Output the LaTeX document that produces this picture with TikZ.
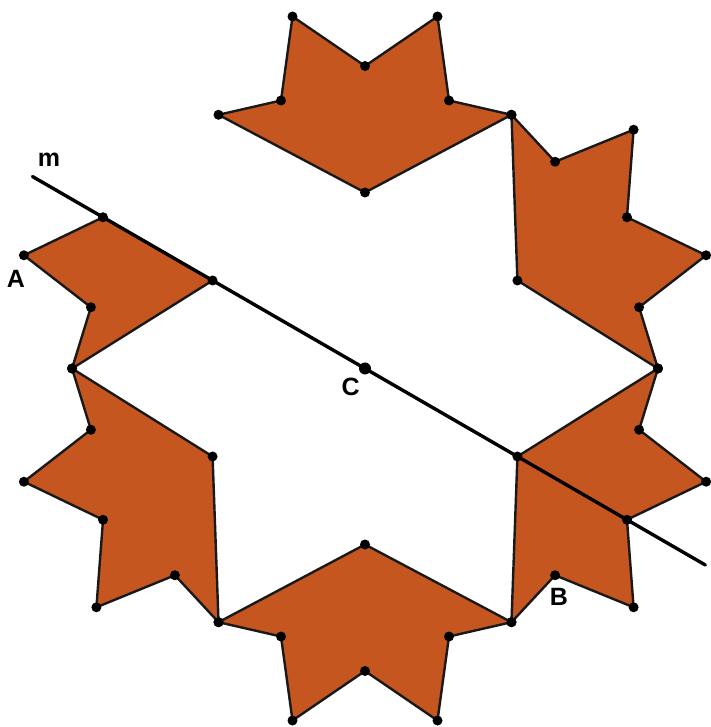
\documentclass[tikz,border=0pt]{standalone}
\usepackage{fontspec}
\setmainfont{Liberation Sans}
\usetikzlibrary{positioning}
\definecolor{tilefill}{HTML}{C5561F}

\begin{document}
\begin{tikzpicture}[
    x=1pt, y=1pt,
    tile/.style={
      draw=black!90, fill=tilefill,
      line width=2.4pt, line join=round},
    vdot/.style={
      circle, fill=black, inner sep=0pt, minimum size=10pt},
    mirror/.style={line width=3.4pt, line cap=round},
    plabel/.style={font=\fontsize{25}{29}\selectfont\bfseries},
  ]
  \useasboundingbox (-365,-358.5) rectangle (345,368.5);

  % ── Five full tiles, turned about C ──
  \foreach \ang [count=\k] in {0,-60,-120,-180,-240} {
    \begin{scope}[rotate=\ang]
      \coordinate (t\k1) at (-146.5,253.7);
      \coordinate (t\k2) at (-84,268);
      \coordinate (t\k3) at (-72.5,352);
      \coordinate (t\k4) at (0,302.5);
      \coordinate (t\k5) at (72.5,352);
      \coordinate (t\k6) at (84,268);
      \coordinate (t\k7) at (146.5,253.7);
      \coordinate (t\k8) at (0,176);
    \end{scope}
    \draw[tile] (t\k1) -- (t\k2) -- (t\k3) -- (t\k4) -- (t\k5)
      -- (t\k6) -- (t\k7) -- (t\k8) -- cycle;
    \foreach \v in {1,...,8}
      \node[vdot] (d\k\v) at (t\k\v) {};
  }

  % ── Half tile below m ──
  \begin{scope}[rotate=60]
    \coordinate (h1) at (-146.5,253.7);
    \coordinate (h2) at (-84,268);
    \coordinate (h3) at (-72.5,352);
    \coordinate (h4) at (0,302.5);
    \coordinate (h5) at (0,176);
  \end{scope}
  \draw[tile] (h1) -- (h2) -- (h3) -- (h4) -- (h5) -- cycle;
  \foreach \v in {1,...,5}
    \node[vdot] (e\v) at (h\v) {};

  % ── Mirror line m ──
  \coordinate (m1) at (150:384);
  \coordinate (m2) at (-30:393);
  \draw[mirror] (m1) -- (m2);
  \node[vdot, minimum size=12pt] (C) at (0,0) {};

  % ── Labels ──
  \node[plabel] (lm) at (-316,208.5) {m};
  \node[plabel] (lA) at (-349,89.5) {A};
  \node[plabel] (lC) at (-14.3,-18.2) {C};
  \node[plabel] (lB) at (194,-228.5) {B};

\end{tikzpicture}
\end{document}
